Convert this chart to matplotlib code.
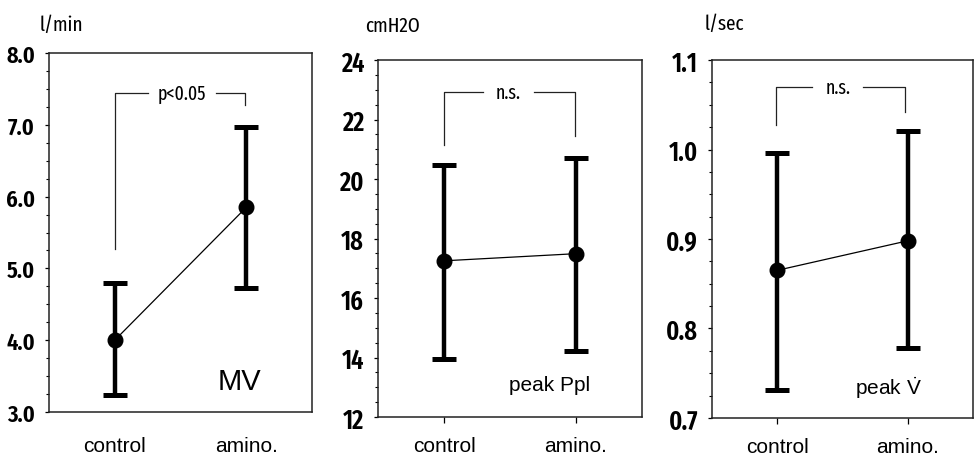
import numpy as np
import matplotlib
matplotlib.use("Agg")
from matplotlib import pyplot as plt
from matplotlib import font_manager as fm
from matplotlib.ticker import MultipleLocator, FormatStrFormatter

# data
groups = ["control", "amino."]

mv_mean = [4.00, 5.85]
mv_low = [3.23, 4.73]
mv_high = [4.79, 6.97]

ppl_mean = [17.25, 17.49]
ppl_low = [13.94, 14.22]
ppl_high = [20.48, 20.72]

flow_mean = [0.865, 0.898]
flow_low = [0.731, 0.778]
flow_high = [0.996, 1.021]

# bracket heights: left foot, top, right foot
mv_bracket = [5.27, 7.44, 7.27]
ppl_bracket = [21.14, 22.91, 21.43]
flow_bracket = [1.027, 1.0695, 1.042]

avail = set(f.name for f in fm.fontManager.ttflist)
NARROW = "DejaVu Sans"
for cand in ["Fira Sans Extra Condensed", "Roboto Condensed", "Archivo Narrow"]:
    if cand in avail:
        NARROW = cand
        break
SANS = "Liberation Sans" if "Liberation Sans" in avail else "DejaVu Sans"

plt.rcParams["font.family"] = [SANS, "DejaVu Sans"]
plt.rcParams["mathtext.fontset"] = "custom"
plt.rcParams["mathtext.rm"] = SANS

W, H = 974, 460
fig = plt.figure(figsize=(W / 100, H / 100), dpi=100)


def px_axes(left, right, top, bottom):
    return fig.add_axes([left / W, 1 - bottom / H, (right - left) / W, (bottom - top) / H])


def panel(ax, mean, low, high, ylim, major, minor, fmt, tick_fs, xticks_on):
    x = np.arange(len(groups))
    mean = np.array(mean)
    err = np.vstack([mean - np.array(low), np.array(high) - mean])
    ax.errorbar(x, mean, yerr=err, fmt="none", ecolor="black", elinewidth=3.2,
                capsize=8.5, capthick=3.6, zorder=2)
    ax.plot(x, mean, color="black", lw=0.9, marker="o", ms=10.5, zorder=3)
    ax.set_xlim(-0.5, 1.5)
    ax.set_ylim(*ylim)
    ax.yaxis.set_major_locator(MultipleLocator(major))
    ax.yaxis.set_minor_locator(MultipleLocator(minor))
    ax.yaxis.set_major_formatter(FormatStrFormatter(fmt))
    ax.tick_params(axis="y", which="major", direction="out", length=3, width=0.9,
                   pad=7, labelsize=tick_fs)
    ax.tick_params(axis="y", which="minor", direction="out", length=2, width=0.8)
    for lab in ax.get_yticklabels():
        lab.set_fontfamily(NARROW)
        lab.set_fontweight("semibold")
    ax.set_xticks(x)
    ax.set_xticklabels(groups, fontsize=15)
    if xticks_on:
        ax.tick_params(axis="x", direction="out", length=4, width=0.9, pad=10)
    else:
        ax.tick_params(axis="x", length=0, pad=17)
    for s in ax.spines.values():
        s.set_linewidth(1.1)
        s.set_color("#222222")


def bracket(ax, xs, ys, label):
    # xs: left x, left gap end, right gap start, right x
    kw = dict(color="#222222", lw=0.9)
    ax.plot([xs[0], xs[0], xs[1]], [ys[0], ys[1], ys[1]], **kw)
    ax.plot([xs[2], xs[3], xs[3]], [ys[1], ys[1], ys[2]], **kw)
    ax.text((xs[1] + xs[2]) / 2, ys[1], label, ha="center", va="center",
            fontsize=14, family=NARROW)


# MV
ax1 = px_axes(49, 312, 54, 413)
panel(ax1, mv_mean, mv_low, mv_high, (3.0, 8.0), 1.0, 0.25, "%.1f", 17.5, False)
bracket(ax1, [0.0, 0.253, 0.77, 0.99], mv_bracket, "p<0.05")
ax1.text(0.95, 3.32, "MV", ha="center", va="baseline", fontsize=21)
fig.text(40 / W, 1 - 31 / H, "l/min", family=NARROW, fontsize=15, va="baseline")

# peak Ppl
ax2 = px_axes(378, 642, 61, 418)
panel(ax2, ppl_mean, ppl_low, ppl_high, (12, 24), 2, 0.5, "%d", 19, True)
bracket(ax2, [0.0, 0.295, 0.68, 0.99], ppl_bracket, "n.s.")
ax2.text(0.80, 12.91, "peak Ppl", ha="center", va="baseline", fontsize=15)
fig.text(365 / W, 1 - 32 / H, "cmH2O", family=NARROW, fontsize=15, va="baseline")

# peak flow
ax3 = px_axes(712, 973, 61, 419)
panel(ax3, flow_mean, flow_low, flow_high, (0.7, 1.1), 0.1, 0.025, "%.1f", 19, True)
bracket(ax3, [-0.01, 0.27, 0.66, 0.98], flow_bracket, "n.s.")
ax3.text(0.85, 0.727, r"peak $\dot{\mathrm{V}}$", ha="center", va="baseline", fontsize=15)
fig.text(705 / W, 1 - 30 / H, "l/sec", family=NARROW, fontsize=15, va="baseline")

fig.savefig("out.png", dpi=100)
